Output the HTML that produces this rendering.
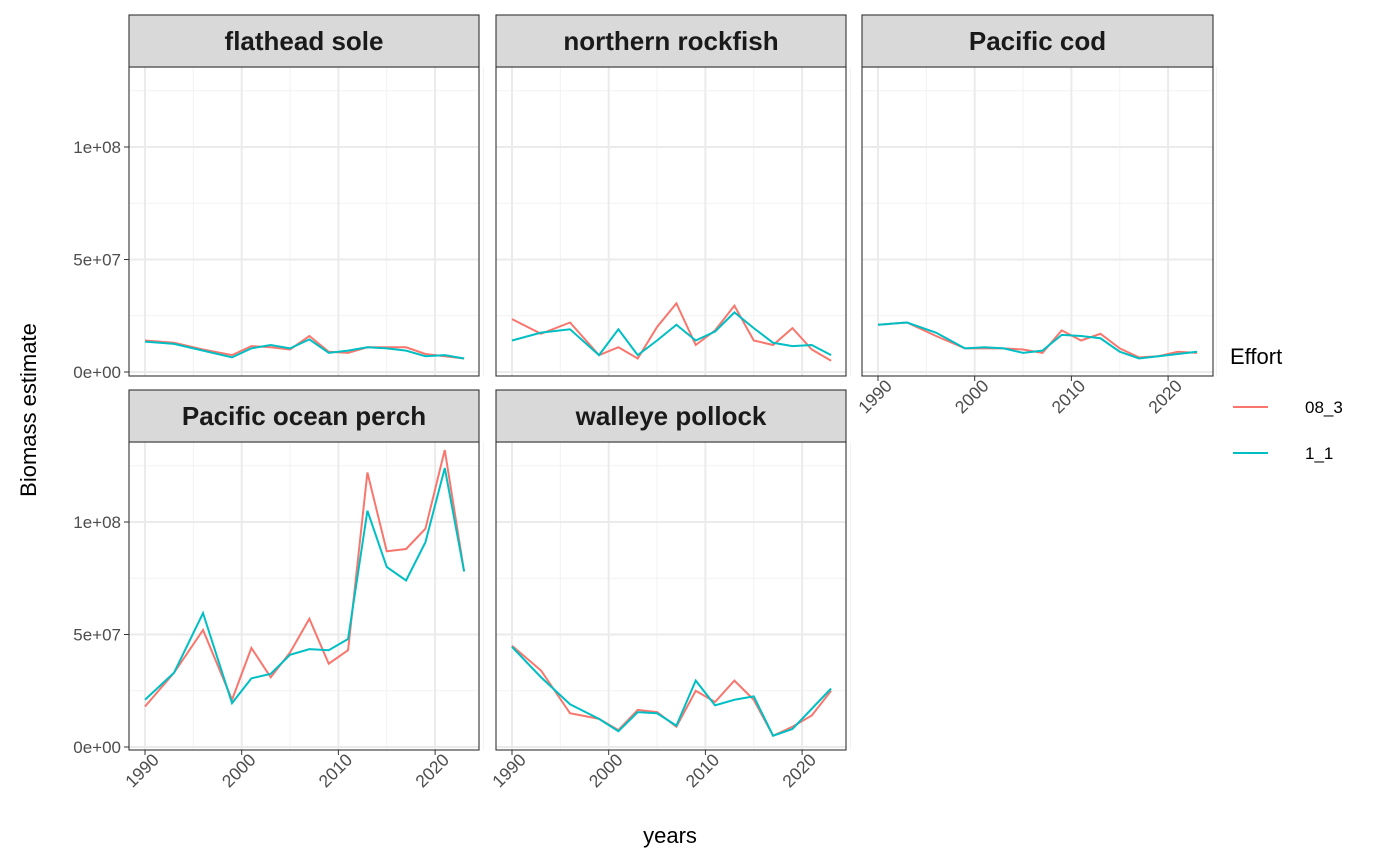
<!DOCTYPE html>
<html><head><meta charset="utf-8"><style>body{margin:0;background:#fff}svg{display:block}text{font-family:"Liberation Sans",Arial,sans-serif}</style></head>
<body><svg id="s" width="1400" height="865" xmlns="http://www.w3.org/2000/svg"></svg>
<script>
const s=document.getElementById('s');let h='';
const yrs=[1990,1993,1996,1999,2001,2003,2005,2007,2009,2011,2013,2015,2017,2019,2021,2023];
const D=[
{n:'flathead sole',a:[1.4,1.3,1.0,0.75,1.15,1.1,1.0,1.6,0.9,0.85,1.1,1.1,1.1,0.8,0.7,0.6],b:[1.35,1.25,0.95,0.65,1.05,1.2,1.05,1.45,0.85,0.95,1.1,1.05,0.95,0.7,0.75,0.6]},
{n:'northern rockfish',a:[2.35,1.7,2.2,0.75,1.1,0.6,2.0,3.05,1.2,1.85,2.95,1.4,1.2,1.95,1.0,0.5],b:[1.4,1.75,1.9,0.75,1.9,0.75,1.4,2.1,1.4,1.8,2.65,1.95,1.3,1.15,1.2,0.75]},
{n:'Pacific cod',a:[2.1,2.2,1.6,1.05,1.05,1.05,1.0,0.85,1.85,1.4,1.7,1.05,0.65,0.7,0.9,0.85],b:[2.1,2.2,1.75,1.05,1.1,1.05,0.85,0.95,1.65,1.6,1.5,0.9,0.6,0.7,0.8,0.9]},
{n:'Pacific ocean perch',a:[1.8,3.3,5.2,2.1,4.4,3.1,4.2,5.7,3.7,4.3,12.2,8.7,8.8,9.7,13.2,7.8],b:[2.1,3.3,5.95,1.95,3.05,3.25,4.1,4.35,4.3,4.8,10.5,8.0,7.4,9.1,12.4,7.8]},
{n:'walleye pollock',a:[4.5,3.4,1.5,1.25,0.75,1.65,1.55,0.9,2.5,2.0,2.95,2.1,0.5,0.9,1.4,2.5],b:[4.45,3.1,1.9,1.25,0.7,1.55,1.5,0.95,2.95,1.85,2.1,2.25,0.5,0.8,1.7,2.6]}];
const PX=[129,496,862],PW=[350,350,351];
D.forEach((d,i)=>{
 const r=i<3?0:1,c=i%3,x0=PX[c],w=PW[c],top=r?442:67,bot=r?750:376,st=r?390:15,z=r?747:372;
 const X=y=>x0+16+(y-1990)*9.67, Y=v=>z-v*22.5;
 h+=`<rect x="${x0}" y="${top}" width="${w}" height="${bot-top}" fill="#fff"/>`;
 for(let v=2.5;v<14;v+=5)h+=`<line x1="${x0}" x2="${x0+w}" y1="${Y(v)}" y2="${Y(v)}" stroke="#f2f2f2" stroke-width="1"/>`;
 for(let y=1995;y<=2025;y+=10)h+=`<line y1="${top}" y2="${bot}" x1="${X(y)}" x2="${X(y)}" stroke="#f2f2f2" stroke-width="1"/>`;
 for(let v=0;v<14;v+=5)h+=`<line x1="${x0}" x2="${x0+w}" y1="${Y(v)}" y2="${Y(v)}" stroke="#ebebeb" stroke-width="2"/>`;
 for(let y=1990;y<=2020;y+=10)h+=`<line y1="${top}" y2="${bot}" x1="${X(y)}" x2="${X(y)}" stroke="#ebebeb" stroke-width="2"/>`;
 [['a','#F8766D'],['b','#00BFC4']].forEach(([k,col])=>{h+=`<polyline fill="none" stroke="${col}" stroke-width="2" points="${d[k].map((v,j)=>X(yrs[j])+','+Y(v)).join(' ')}"/>`;});
 h+=`<rect x="${x0}" y="${top}" width="${w}" height="${bot-top}" fill="none" stroke="#333" stroke-width="1.1"/>`;
 h+=`<rect x="${x0}" y="${st}" width="${w}" height="${top-st}" fill="#d9d9d9" stroke="#333" stroke-width="1.1"/>`;
 h+=`<text x="${x0+w/2}" y="${st+35}" text-anchor="middle" font-size="26" font-weight="bold" fill="#1a1a1a">${d.n}</text>`;
 if(c==0){[0,5,10].forEach((v,k)=>{h+=`<line x1="${x0-5}" x2="${x0}" y1="${Y(v)}" y2="${Y(v)}" stroke="#333"/><text x="${x0-8}" y="${Y(v)+6}" text-anchor="end" font-size="17" fill="#4d4d4d">${['0e+00','5e+07','1e+08'][k]}</text>`;});}
 if(i>=2){for(let y=1990;y<=2020;y+=10){const tx=X(y);h+=`<line x1="${tx}" x2="${tx}" y1="${bot}" y2="${bot+5}" stroke="#333"/><text transform="translate(${tx+15},${bot+11}) rotate(-45)" text-anchor="end" font-size="17.5" fill="#4d4d4d">${y}</text>`;}}
});
h+=`<text x="670" y="843" text-anchor="middle" font-size="22">years</text>`;
h+=`<text transform="translate(36,410) rotate(-90)" text-anchor="middle" font-size="22">Biomass estimate</text>`;
h+=`<text x="1230" y="364" font-size="22">Effort</text>`;
h+=`<line x1="1233" x2="1268" y1="407" y2="407" stroke="#F8766D" stroke-width="2"/><text x="1305" y="413" font-size="17">08_3</text>`;
h+=`<line x1="1233" x2="1268" y1="453" y2="453" stroke="#00BFC4" stroke-width="2"/><text x="1305" y="459" font-size="17">1_1</text>`;
s.innerHTML=h;
</script></body></html>
